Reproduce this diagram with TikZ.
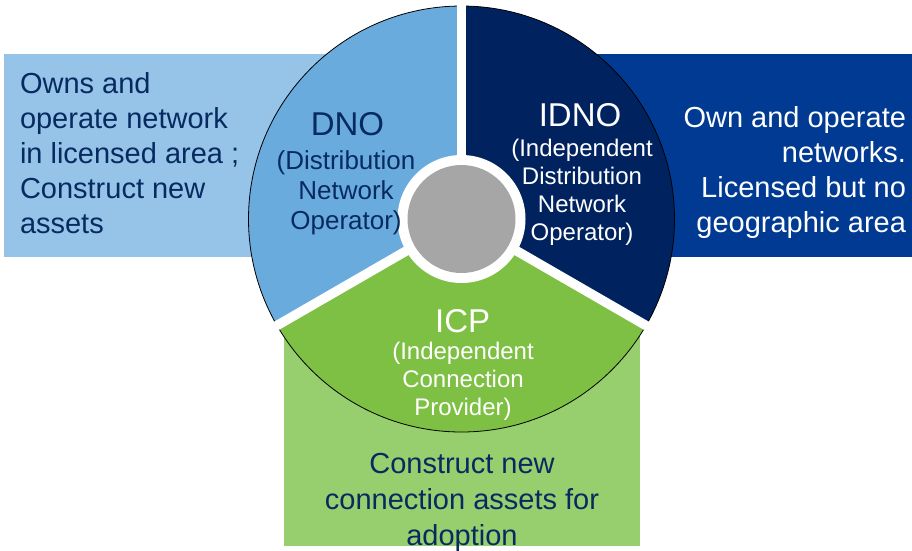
\documentclass[tikz,border=0pt]{standalone}
\usepackage{fontspec}
\setmainfont{Liberation Sans}
\definecolor{boxL}{HTML}{96C3E8}
\definecolor{segL}{HTML}{6AABDE}
\definecolor{segR}{HTML}{00235F}
\definecolor{boxR}{HTML}{003A92}
\definecolor{segB}{HTML}{7DC043}
\definecolor{boxB}{HTML}{97CE6E}
\definecolor{hub}{HTML}{A6A6A6}
\definecolor{navy}{HTML}{072B61}
\tikzset{
  txt/.style={inner sep=0pt, outer sep=0pt},
  body/.style={txt, font=\fontsize{29}{35}\selectfont},
  title/.style={txt, font=\fontsize{33}{38}\selectfont, anchor=base},
  subL/.style={txt, align=center, anchor=north, font=\fontsize{26}{30}\selectfont},
  subS/.style={txt, align=center, anchor=north, font=\fontsize{24}{28}\selectfont},
  gap/.style={white, line width=9.5pt},
}
\begin{document}
\begin{tikzpicture}[x=1pt,y=-1pt]
\useasboundingbox (0,0) rectangle (912,550);
\def\R{213}
\coordinate (C) at (461.5,219);

% description panels behind the wheel
\fill[boxL] (4,54) rectangle (335,257);
\fill[boxR] (590,54) rectangle (912,257);
\fill[boxB] (284,333) rectangle (640,546);

% three wheel segments
\fill[segL] (C) -- ++(-90:\R) arc[start angle=-90, end angle=-210, radius=\R] -- cycle;
\fill[segR] (C) -- ++(-90:\R) arc[start angle=-90, end angle=30, radius=\R] -- cycle;
\fill[segB] (C) -- ++(150:\R) arc[start angle=150, end angle=30, radius=\R] -- cycle;
\draw[black, line width=0.8pt] (C) circle[radius=\R];

% white separators and hub
\draw[gap] (C) -- ++(-90:\R+1);
\draw[gap] (C) -- ++(150:\R+1);
\draw[gap] (C) -- ++(30:\R+1);
\fill[white] (C) circle[radius=64];
\fill[hub] (C) circle[radius=54];

% segment labels
\node[title, text=navy] (dnoT) at (347.5,135) {DNO};
\node[subL, text=navy] (dnoS) at (346,150.5) {(Distribution\\Network\\Operator)};
\node[title, text=white] (idnoT) at (580,126.7) {IDNO};
\node[subS, text=white] (idnoS) at (582,139.5) {(Independent\\Distribution\\Network\\Operator)};
\node[title, text=white] (icpT) at (462.7,332) {ICP};
\node[subS, text=white] (icpS) at (463,342) {(Independent\\Connection\\Provider)};

% panel texts
\node[body, text=navy, align=left, anchor=north west] (descL) at (20,72)
  {Owns and\\operate network\\in licensed area ;\\Construct new\\assets};
\node[body, text=white, align=right, anchor=north east] (descR) at (906,106)
  {Own and operate\\networks.\\Licensed but no\\geographic area};
\node[body, text=navy, align=center, anchor=north, font=\fontsize{29}{36}\selectfont] (descB) at (462,453)
  {Construct new\\connection assets for\\adoption};
\end{tikzpicture}
\end{document}
